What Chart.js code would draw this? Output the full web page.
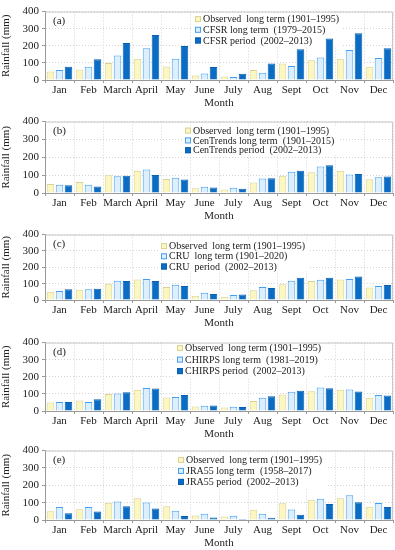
<!DOCTYPE html>
<html>
<head>
<meta charset="UTF-8">
<title>Monthly rainfall comparison</title>
<script src="https://cdn.jsdelivr.net/npm/chart.js"></script>
<style>
  body { margin: 0; background: #fff; }
  #wrap { position: relative; width: 395px; height: 550px; }
  canvas { position: absolute; left: 0; }
</style>
</head>
<body>
<div id="wrap"></div>

<script>
// data (mm)
const months = ['Jan', 'Feb', 'March', 'April', 'May', 'June', 'July', 'Aug', 'Sept', 'Oct', 'Nov', 'Dec'];
const yTicks = [0, 100, 200, 300, 400];

const observed = [50, 62, 99, 125, 79, 26, 20, 59, 96, 116, 125, 77];

const cfsrLong   = [59, 78, 144, 186, 125, 38, 17, 42, 82, 131, 176, 129];
const cfsrPeriod = [78, 121, 216, 263, 199, 76, 36, 97, 180, 243, 273, 186];

const cenLong   = [46, 46, 94, 132, 86, 35, 29, 81, 119, 149, 103, 88];
const cenPeriod = [44, 37, 97, 101, 75, 31, 24, 83, 125, 156, 106, 92];

const cruLong   = [55, 65, 118, 128, 93, 45, 30, 79, 118, 124, 128, 85];
const cruPeriod = [65, 69, 116, 116, 85, 37, 34, 73, 136, 136, 144, 91];

const chirpsLong   = [53, 53, 103, 135, 82, 30, 25, 78, 112, 137, 126, 93];
const chirpsPeriod = [53, 69, 109, 131, 93, 32, 23, 86, 118, 133, 114, 90];

const jraLong   = [75, 75, 107, 101, 53, 36, 24, 36, 60, 122, 143, 98];
const jraPeriod = [39, 49, 79, 66, 23, 15, 6, 13, 30, 92, 103, 75];

const obsLabel = 'Observed  long term (1901\u20131995)';

// panel layout: plot top/bottom in page px, legend box x, first row offset, row step
const panels = [
  { tag: '(a)', top: 10, bottom: 80, lx: 195, ly: 7.5, dy: 10.7,
    labels: [obsLabel, 'CFSR long term  (1979\u20132015)', 'CFSR period  (2002\u20132013)'],
    long: cfsrLong, period: cfsrPeriod },
  { tag: '(b)', top: 120, bottom: 193, lx: 185, ly: 9, dy: 9.8,
    labels: [obsLabel, 'CenTrends long term  (1901\u20132015)', 'CenTrends period  (2002\u20132013)'],
    long: cenLong, period: cenPeriod },
  { tag: '(c)', top: 233, bottom: 300, lx: 161, ly: 11.5, dy: 10.2,
    labels: [obsLabel, 'CRU  long term (1901\u20132020)', 'CRU  period  (2002\u20132013)'],
    long: cruLong, period: cruPeriod },
  { tag: '(d)', top: 341, bottom: 411, lx: 177, ly: 5.5, dy: 11.5,
    labels: [obsLabel, 'CHIRPS long term  (1981\u20132019)', 'CHIRPS period  (2002\u20132013)'],
    long: chirpsLong, period: chirpsPeriod },
  { tag: '(e)', top: 449, bottom: 520, lx: 178, ly: 9.3, dy: 11,
    labels: [obsLabel, 'JRA55 long term  (1958\u20132017)', 'JRA55 period  (2002\u20132013)'],
    long: jraLong, period: jraPeriod }
];

const FONT = "'Liberation Serif', 'Times New Roman', serif";
Chart.defaults.font.family = FONT;
Chart.defaults.color = '#222';

const PAD_TOP = 8;
const X_AXIS_H = 30;

const yellowFill = '#fcf6c0', yellowLine = '#d9d195';
const lightFill = '#ddeefd', lightLine = '#45a0f2';
const darkFill = '#0a6cc4', darkLine = '#0a60b0';

// in-plot legend: white backing under the bars, text and boxes on top
const innerLegend = {
  id: 'innerLegend',
  beforeDatasetsDraw(chart, args, opts) {
    const ctx = chart.ctx;
    const area = chart.chartArea;
    ctx.save();
    ctx.font = '10px ' + FONT;
    let w = 0;
    chart.data.datasets.forEach(ds => { w = Math.max(w, ctx.measureText(ds.label).width); });
    ctx.fillStyle = '#fff';
    ctx.fillRect(opts.x - 2, area.top + opts.y - opts.dy / 2, w + 14, opts.dy * 3);
    ctx.restore();
  },
  afterDatasetsDraw(chart, args, opts) {
    const ctx = chart.ctx;
    const area = chart.chartArea;
    ctx.save();
    ctx.font = '10px ' + FONT;
    ctx.textBaseline = 'middle';
    chart.data.datasets.forEach((ds, i) => {
      const cy = area.top + opts.y + i * opts.dy;
      ctx.fillStyle = ds.backgroundColor;
      ctx.fillRect(opts.x, cy - 3, 6, 6);
      ctx.strokeStyle = ds.borderColor;
      ctx.lineWidth = 1;
      ctx.strokeRect(opts.x + 0.5, cy - 2.5, 5, 5);
      ctx.fillStyle = '#222';
      ctx.textAlign = 'left';
      ctx.fillText(ds.label, opts.x + 8, cy + 0.5);
    });
    ctx.font = '11px ' + FONT;
    ctx.fillText(opts.tag, area.left + 8, area.top + 10);
    ctx.restore();
  }
};

const wrap = document.getElementById('wrap');

panels.forEach(p => {
  const canvas = document.createElement('canvas');
  const h = p.bottom - p.top + PAD_TOP + X_AXIS_H;
  canvas.width = 395;
  canvas.height = h;
  canvas.style.top = (p.top - PAD_TOP) + 'px';
  canvas.style.width = '395px';
  canvas.style.height = h + 'px';
  wrap.appendChild(canvas);

  new Chart(canvas.getContext('2d'), {
    type: 'bar',
    data: {
      labels: months,
      datasets: [
        { label: p.labels[0], data: observed, backgroundColor: yellowFill, borderColor: yellowLine, borderWidth: 1 },
        { label: p.labels[1], data: p.long, backgroundColor: lightFill, borderColor: lightLine, borderWidth: 1 },
        { label: p.labels[2], data: p.period, backgroundColor: darkFill, borderColor: darkLine, borderWidth: 1 }
      ]
    },
    options: {
      responsive: false,
      animation: false,
      layout: { padding: { top: PAD_TOP, right: 2, left: 0, bottom: 0 } },
      datasets: { bar: { categoryPercentage: 0.93, barPercentage: 0.84 } },
      plugins: {
        legend: { display: false },
        tooltip: { enabled: false },
        innerLegend: { x: p.lx, y: p.ly, dy: p.dy, tag: p.tag }
      },
      scales: {
        x: {
          afterFit: s => { s.height = X_AXIS_H; },
          border: { color: '#999', width: 1, dash: [1, 2] },
          grid: { offset: true, color: '#d4d4d4', tickColor: '#999', tickLength: 3, tickBorderDash: [] },
          ticks: { font: { size: 11 }, padding: 1, maxRotation: 0, autoSkip: false },
          title: { display: true, text: 'Month', font: { size: 11 }, padding: { top: 0, bottom: 0 } }
        },
        y: {
          min: 0, max: 400,
          afterFit: s => { s.width = 45; },
          afterBuildTicks: s => { s.ticks = yTicks.map(v => ({ value: v })); },
          border: { color: '#999', width: 1, dash: [1, 2] },
          grid: { color: '#d4d4d4', tickColor: '#999', tickLength: 3, tickBorderDash: [] },
          ticks: { font: { size: 11 }, padding: 3 },
          title: { display: true, text: 'Rainfall (mm)', font: { size: 11 }, padding: { top: 0, bottom: 2 } }
        }
      }
    },
    plugins: [innerLegend, {
      id: 'frame',
      afterDraw(chart) {
        const a = chart.chartArea, ctx = chart.ctx;
        ctx.save();
        ctx.strokeStyle = '#c8c8c8';
        ctx.lineWidth = 1;
        ctx.beginPath();
        ctx.moveTo(a.left, a.top + 0.5);
        ctx.lineTo(a.right - 0.5, a.top + 0.5);
        ctx.lineTo(a.right - 0.5, a.bottom);
        ctx.stroke();
        ctx.restore();
      }
    }]
  });
});
</script>
</body>
</html>
